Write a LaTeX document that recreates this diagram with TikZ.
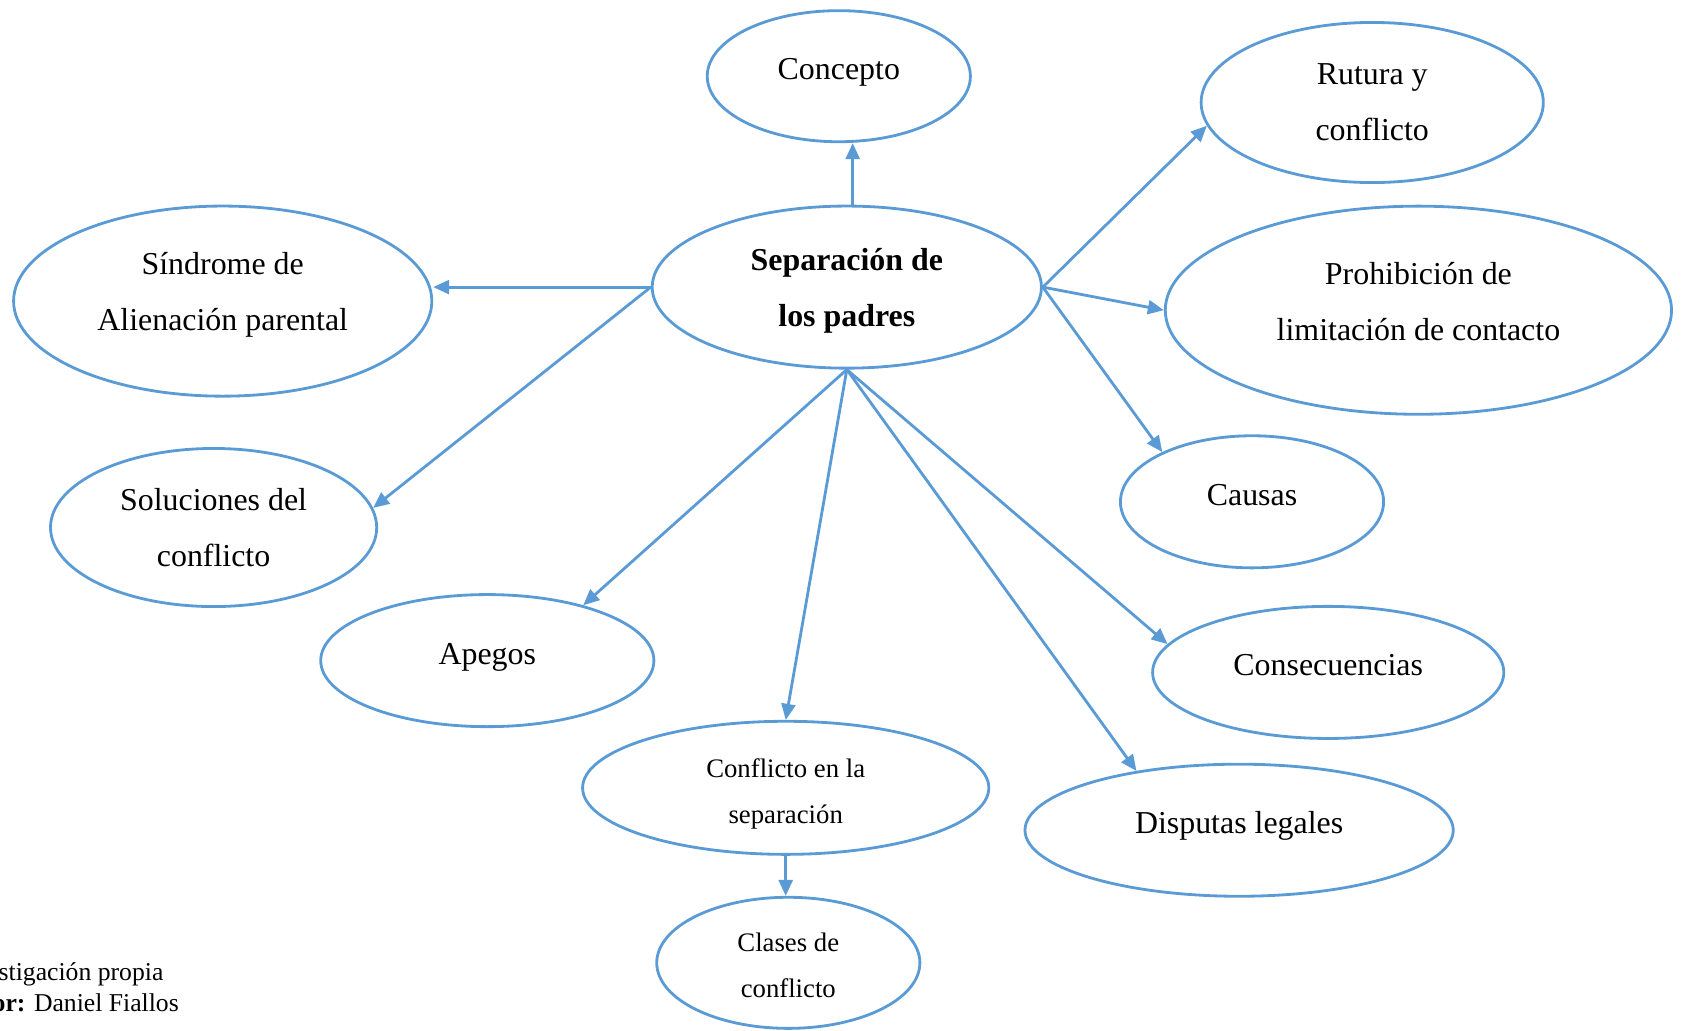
\documentclass[tikz,border=0pt]{standalone}
\usepackage{fontspec}
\setmainfont{Liberation Serif}
\usepackage{xcolor}
\usepackage{tikz}
\usepgflibrary{shapes}
\usetikzlibrary{arrows.meta}

\definecolor{lineblue}{RGB}{91,155,213}

\begin{document}
\begin{tikzpicture}[x=0.01cm, y=-0.01cm,
	main/.style = {draw=lineblue, line width=0.8pt, ellipse, inner sep=0pt, align=center, font=\fontsize{9.07}{15.9}\selectfont},
	small/.style = {font=\fontsize{7.6}{13.1}\selectfont},
	single/.style = {text height=0.7em, text depth=0.5em},
	arr/.style = {-{Triangle[length=0.16cm, width=0.14cm]}, draw=lineblue, line width=0.8pt}]
	\useasboundingbox (0,0) rectangle (1683,1030);
	\node[main, text depth=0cm, minimum width=3.89cm, minimum height=1.62cm] (1) at (846.8,287.1) {\textbf{Separación de}\\\textbf{los padres}};
	\node[main, single, minimum width=2.63cm, minimum height=1.31cm] (2) at (838.8,76.2) {Concepto};
	\node[main, minimum width=3.42cm, minimum height=1.60cm] (3) at (1372.2,102.5) {Rutura y\\conflicto};
	\node[main, text depth=0.172cm, minimum width=5.06cm, minimum height=2.08cm] (4) at (1418.4,310.2) {Prohibición de\\limitación de contacto};
	\node[main, single, minimum width=2.63cm, minimum height=1.32cm] (5) at (1252,501.8) {Causas};
	\node[main, single, minimum width=3.51cm, minimum height=1.32cm] (6) at (1328.2,672.4) {Consecuencias};
	\node[main, single, minimum width=4.28cm, minimum height=1.32cm] (7) at (1239.1,830.2) {Disputas legales};
	\node[main, small, text height=0.71cm, text depth=0cm, minimum width=4.06cm, minimum height=1.33cm] (8) at (785.7,787.8) {Conflicto en la\\separación};
	\node[main, small, text height=0.70cm, text depth=0cm, minimum width=2.63cm, minimum height=1.31cm] (9) at (788.3,962.8) {Clases de\\conflicto};
	\node[main, single, minimum width=3.33cm, minimum height=1.32cm] (10) at (487.3,660.6) {Apegos};
	\node[main, minimum width=3.26cm, minimum height=1.58cm] (11) at (213.6,527.5) {Soluciones del\\conflicto};
	\node[main, text depth=0.197cm, minimum width=4.18cm, minimum height=1.90cm] (12) at (222.7,301.1) {Síndrome de\\Alienación parental};
	\node[anchor=west, inner sep=0pt, align=left, font=\fontsize{7.3}{8.8}\selectfont] (13) at (-2,987) {stigación propia\\\hspace*{-0.06cm}\textbf{or:} Daniel Fiallos};
	\draw[arr] ([xshift=0.059cm]1.north) -- ([xshift=0.059cm]1.north |- 2.south);
	\draw[arr] (1.west) -- (1.west -| 12.east);
	\draw[arr] (1.west) -- (11.7);
	\draw[arr] (1.south) -- (10.30);
	\draw[arr] (1.south) -- (8.north);
	\draw[arr] (1.south) -- (7.150);
	\draw[arr] (1.south) -- (6.170);
	\draw[arr] (1.east) -- (3.188);
	\draw[arr] (1.east) -- (4.west);
	\draw[arr] (1.east) -- (5.151);
	\draw[arr] (8.south) -- (8.south |- 9.north);
\end{tikzpicture}
\end{document}
